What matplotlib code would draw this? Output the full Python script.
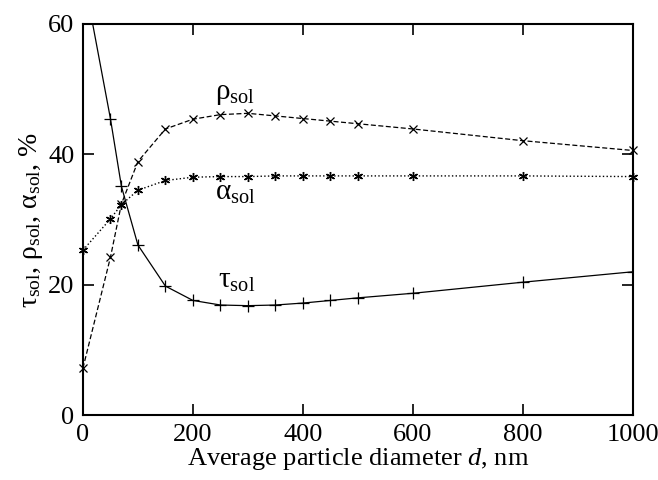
import matplotlib
matplotlib.use("Agg")
import matplotlib.pyplot as plt

plt.rcParams['font.family'] = ['Liberation Serif', 'DejaVu Serif']
plt.rcParams['mathtext.fontset'] = 'custom'
plt.rcParams['mathtext.rm'] = 'Liberation Serif'
plt.rcParams['mathtext.it'] = 'Liberation Serif:italic'

# data
d = [0, 50, 70, 100, 150, 200, 250, 300, 350, 400, 450, 500, 600, 800, 1000]
tau = [68, 45.5, 35.1, 26.1, 19.8, 17.6, 16.9, 16.8, 16.9, 17.2, 17.6, 18.0, 18.7, 20.4, 22.0]
rho = [7.2, 24.2, 32.4, 38.9, 43.9, 45.4, 46.1, 46.3, 45.9, 45.5, 45.1, 44.7, 43.9, 42.1, 40.6]
alpha = [25.3, 30.1, 32.3, 34.5, 36.0, 36.5, 36.6, 36.6, 36.7, 36.7, 36.7, 36.7, 36.7, 36.7, 36.6]

fig = plt.figure(figsize=(6.58, 4.8), dpi=100)
ax = fig.add_axes([0.126, 0.135, 0.836, 0.815])

ax.plot(d, tau, '-', color='black', lw=0.9, marker='+', ms=8, mew=0.9, clip_on=True)
ax.plot(d, rho, '--', color='black', lw=0.9, marker='x', ms=5.5, mew=0.9, dashes=(4, 2), clip_on=False)
ax.plot(d, alpha, ':', color='black', lw=1.0, marker=(6, 2, 0), ms=6.5, mew=1.0, clip_on=False)

ax.set_xlim(0, 1000)
ax.set_ylim(0, 60)
ax.set_xticks([0, 200, 400, 600, 800, 1000])
ax.set_yticks([0, 20, 40, 60])
ax.tick_params(direction='in', top=True, right=True, length=8, width=1.2, labelsize=19, pad=6)
for s in ax.spines.values():
    s.set_linewidth(1.5)

ax.set_xlabel('Average particle diameter $d$, nm', fontsize=19, labelpad=0)
ax.set_ylabel('τ$_{\\mathrm{sol}}$, ρ$_{\\mathrm{sol}}$, α$_{\\mathrm{sol}}$, %', fontsize=20, labelpad=2)

ax.text(240, 48.5, 'ρ$_{\\mathrm{sol}}$', fontsize=21, ha='left', va='baseline')
ax.text(240, 33.1, 'α$_{\\mathrm{sol}}$', fontsize=21, ha='left', va='baseline')
ax.text(245, 19.5, 'τ$_{\\mathrm{sol}}$', fontsize=21, ha='left', va='baseline')

fig.savefig('out.png', dpi=100)
